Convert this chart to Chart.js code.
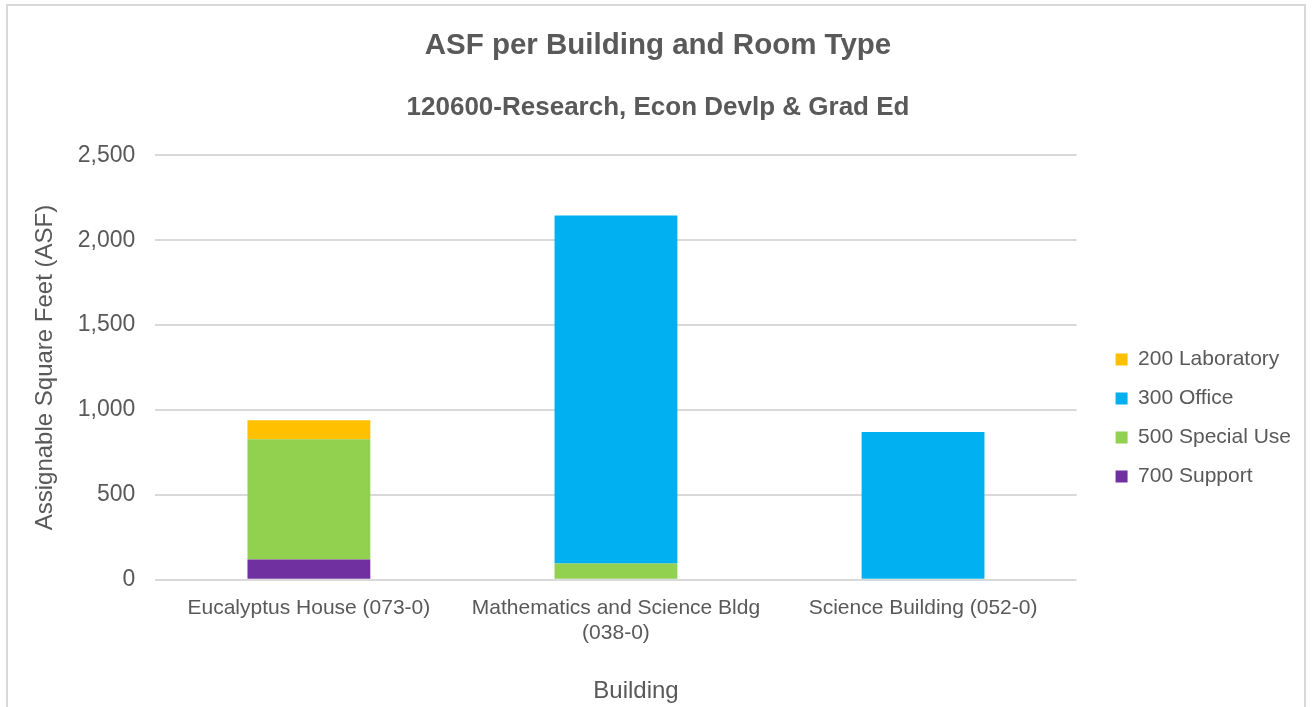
<!DOCTYPE html>
<html>
<head>
<meta charset="utf-8">
<script src="https://cdn.jsdelivr.net/npm/chart.js@4.4.1/dist/chart.umd.min.js"></script>
<style>
  html, body { margin: 0; padding: 0; background: #fff; }
  #wrap { position: relative; width: 1313px; height: 707px; overflow: hidden; }
  #frame { position: absolute; left: 6px; top: 4px; width: 1300px; height: 720px; border: 2px solid #d9d9d9; box-sizing: border-box; }
  #c { position: absolute; left: 0; top: 0; }
</style>
</head>
<body>
<div id="wrap">
  <div id="frame"></div>
  <canvas id="c" width="1313" height="707"></canvas>
</div>
<script>
// values
const buildings = ['Eucalyptus House (073-0)', ['Mathematics and Science Bldg', '(038-0)'], 'Science Building (052-0)'];
const support700 = [120, null, null];
const specialUse500 = [708, 96, null];
const office300 = [null, 2049, 870];
const lab200 = [112, null, null];

const TEXT = '#595959';
const GRID = '#d9d9d9';
const FONT = 'Liberation Sans, Arial, sans-serif';

// Excel puts the legend lower and the titles centred on the whole frame
const nudge = {
  id: 'nudge',
  afterLayout(chart) {
    const lg = chart.legend;
    lg.left += 21; lg.right += 21;
    lg.top += 65; lg.bottom += 65;
    chart.boxes.forEach(b => {
      if (b.position === 'top') { b.left += 13; b.right += 13; }
    });
  }
};

new Chart(document.getElementById('c'), {
  type: 'bar',
  data: {
    labels: buildings,
    datasets: [
      { label: '700 Support', data: support700, backgroundColor: '#7030A0' },
      { label: '500 Special Use', data: specialUse500, backgroundColor: '#92D050' },
      { label: '300 Office', data: office300, backgroundColor: '#00B0F0' },
      { label: '200 Laboratory', data: lab200, backgroundColor: '#FFC000' }
    ]
  },
  options: {
    responsive: false,
    animation: false,
    datasets: { bar: { categoryPercentage: 1, barPercentage: 0.4, borderWidth: 0 } },
    layout: { padding: { left: 10, right: 33, bottom: 1 } },
    plugins: {
      title: {
        display: true,
        text: 'ASF per Building and Room Type',
        color: TEXT,
        font: { family: FONT, size: 29.5, weight: 'bold' },
        padding: { top: 27.7, bottom: 29.5 }
      },
      subtitle: {
        display: true,
        text: '120600-Research, Econ Devlp & Grad Ed',
        color: TEXT,
        font: { family: FONT, size: 26, weight: 'bold' },
        padding: { top: 0, bottom: 31.5 }
      },
      legend: {
        position: 'right',
        reverse: true,
        labels: {
          color: TEXT,
          boxWidth: 12,
          boxHeight: 12,
          padding: 18,
          font: { family: FONT, size: 21 }
        }
      },
      tooltip: { enabled: false }
    },
    scales: {
      x: {
        stacked: true,
        grid: { display: false },
        border: { display: false },
        ticks: { color: TEXT, padding: 8, maxRotation: 0, font: { family: FONT, size: 21 } },
        title: {
          display: true,
          // leading spaces push the title a little right, as in the original
          text: '\u00A0\u00A0\u00A0\u00A0\u00A0\u00A0Building',
          color: TEXT,
          font: { family: FONT, size: 24 },
          padding: { top: 23, bottom: 0 }
        }
      },
      y: {
        stacked: true,
        min: 0,
        max: 2500,
        grid: { color: GRID, lineWidth: 2, drawTicks: false },
        border: { display: false },
        ticks: {
          stepSize: 500,
          color: TEXT,
          padding: 20,
          font: { family: FONT, size: 23 },
          callback: v => v.toLocaleString('en-US')
        },
        title: {
          display: true,
          text: 'Assignable Square Feet (ASF)',
          color: TEXT,
          font: { family: FONT, size: 24 },
          padding: { top: 21, bottom: -2 }
        }
      }
    }
  },
  plugins: [nudge]
});
</script>
</body>
</html>
